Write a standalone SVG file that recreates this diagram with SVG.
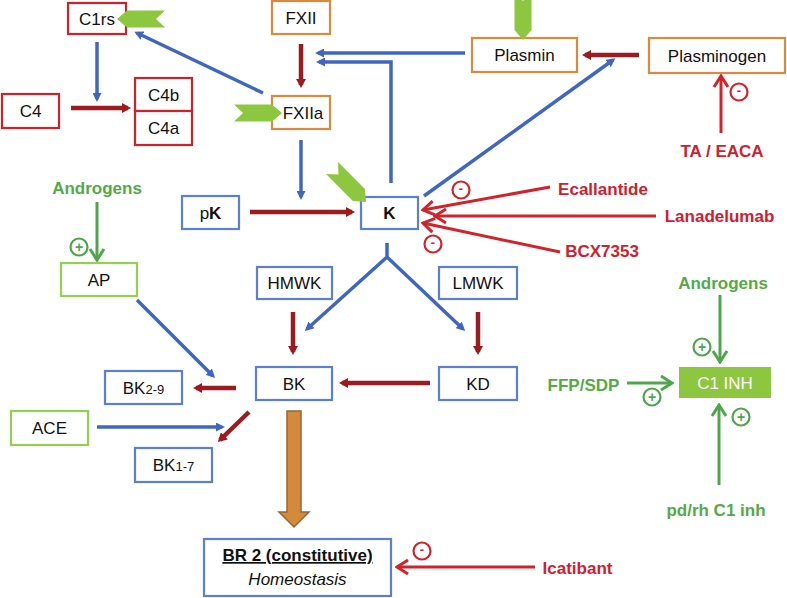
<svg xmlns="http://www.w3.org/2000/svg" xmlns:xlink="http://www.w3.org/1999/xlink" width="787" height="598" viewBox="0 0 787 598">
<style>
.box{fill:#fff;stroke-width:2.2}
.rb{stroke:#D0202A}
.ob{stroke:#D98A3C}
.bb{stroke:#5B7FD3}
.gb{stroke:#92D050}
.t{font-family:"Liberation Sans",Arial,sans-serif;font-size:17px;fill:#111;text-anchor:middle}
.lab{font-family:"Liberation Sans",Arial,sans-serif;font-size:17px;font-weight:bold;text-anchor:middle}
.red{fill:#D0202E}
.grn{fill:#55AA48}
.blue{stroke:#3F67C2;stroke-width:3.5;fill:none;marker-end:url(#aB)}
.dred{stroke:#9B1B1E;stroke-width:4.5;fill:none;marker-end:url(#aR)}
.drug{stroke:#D2232A;stroke-width:3;fill:none;marker-end:url(#oR)}
.gar{stroke:#4EA64A;stroke-width:3;fill:none;marker-end:url(#oG)}
.sm{fill:none;stroke:#D2232A;stroke-width:2.2}
.sp{fill:none;stroke:#4EA64A;stroke-width:2.2}
.sgr{font-family:"Liberation Sans",Arial,sans-serif;font-size:13px;font-weight:bold;text-anchor:middle;fill:#D2232A}
.sgg{font-family:"Liberation Sans",Arial,sans-serif;font-size:14px;font-weight:bold;text-anchor:middle;fill:#4EA64A}
</style>
<defs>
<marker id="aB" viewBox="0 0 9 9" refX="6" refY="4.5" markerWidth="9" markerHeight="9" markerUnits="userSpaceOnUse" orient="auto"><path d="M0,0 L9,4.5 L0,9 z" fill="#3F67C2"/></marker>
<marker id="aR" viewBox="0 0 9 10" refX="6" refY="5" markerWidth="9" markerHeight="10" markerUnits="userSpaceOnUse" orient="auto"><path d="M0,0 L9,5 L0,10 z" fill="#9B1B1E"/></marker>
<marker id="oR" viewBox="-2 -2 16 18" refX="12" refY="7" markerWidth="16" markerHeight="18" markerUnits="userSpaceOnUse" orient="auto"><path d="M1,0 L12,7 L1,14" fill="none" stroke="#D2232A" stroke-width="3"/></marker>
<marker id="oG" viewBox="-2 -2 16 18" refX="12" refY="7" markerWidth="16" markerHeight="18" markerUnits="userSpaceOnUse" orient="auto"><path d="M1,0 L12,7 L1,14" fill="none" stroke="#4EA64A" stroke-width="3"/></marker>
<path id="chev" d="M-48,-8.5 L-10,-8.5 L0,0 L-10,8.5 L-48,8.5 L-39,0 z" fill="#8DC63F"/>
</defs>

<g id="connectors">
<path class="blue" d="M97,42 L97,99"/>
<path class="blue" d="M263,93 L137,33"/>
<path class="blue" d="M465,53 L318,53"/>
<path class="blue" d="M391,183 L391,62 L319,62"/>
<path class="blue" d="M424,196 L613,60"/>
<path class="blue" d="M301,140 L301,197"/>
<path class="blue" d="M387,243 L387,257 L307,329"/>
<path class="blue" d="M387,257 L463,329"/>
<path class="blue" d="M137,300 L213,376"/>
<path class="blue" d="M97,427 L222,427"/>
<path class="dred" d="M71,108 L128,108"/>
<path class="dred" d="M301,44 L301,85"/>
<path class="dred" d="M639,55 L585,55"/>
<path class="dred" d="M250,212 L352,212"/>
<path class="dred" d="M293,312 L293,352"/>
<path class="dred" d="M478,312 L478,352"/>
<path class="dred" d="M430,383 L342,383"/>
<path class="dred" d="M236,388 L196,388"/>
<path class="dred" d="M249,412 L220,440"/>
<path class="drug" d="M721,133 L721,76"/>
<path class="drug" d="M550,187 L423,210"/>
<path class="drug" d="M656,216 L435,216"/>
<path class="drug" d="M560,252 L423,223"/>
<path class="drug" d="M535,567 L397,567"/>
<path class="gar" d="M97,202 L97,260"/>
<path class="gar" d="M720,295 L720,362"/>
<path class="gar" d="M627,383 L672,383"/>
<path class="gar" d="M719,485 L719,405"/>
<polygon points="287,411 301,411 301,512 309,512 294,527 279,512 287,512" fill="#D48A3C" stroke="#9C6430" stroke-width="1.5"/>
</g>

<g id="signs">
<circle class="sm" cx="739" cy="92" r="8.5"/><text class="sgr" x="739" y="95">-</text>
<circle class="sm" cx="461" cy="190" r="8.5"/><text class="sgr" x="461" y="193">-</text>
<circle class="sm" cx="433" cy="244" r="8.5"/><text class="sgr" x="433" y="247">-</text>
<circle class="sm" cx="422" cy="551" r="8.5"/><text class="sgr" x="422" y="554">-</text>
<circle class="sp" cx="79" cy="247" r="8.5"/><text class="sgg" x="79" y="252">+</text>
<circle class="sp" cx="702" cy="347" r="8.5"/><text class="sgg" x="702" y="352">+</text>
<circle class="sp" cx="652" cy="397" r="8.5"/><text class="sgg" x="652" y="402">+</text>
<circle class="sp" cx="741" cy="417" r="8.5"/><text class="sgg" x="741" y="422">+</text>
</g>

<g id="C1rs"><rect class="box rb" x="68" y="3" width="58" height="31"/><text class="t" x="97" y="25">C1rs</text></g>
<g id="C4"><rect class="box rb" x="2" y="94" width="57" height="34"/><text class="t" x="30.5" y="117">C4</text></g>
<g id="C4b"><rect class="box rb" x="135" y="78" width="57" height="33"/><text class="t" x="163.5" y="100.5">C4b</text></g>
<g id="C4a"><rect class="box rb" x="135" y="111" width="57" height="34"/><text class="t" x="163.5" y="134">C4a</text></g>
<g id="FXII"><rect class="box ob" x="272" y="1" width="58" height="33"/><text class="t" x="301" y="24">FXII</text></g>
<g id="FXIIa"><rect class="box ob" x="272" y="96" width="58" height="33"/><text class="t" x="303" y="119">FXIIa</text></g>
<g id="Plasmin"><rect class="box ob" x="472" y="38" width="105" height="34"/><text class="t" x="524.5" y="61">Plasmin</text></g>
<g id="Plasminogen"><rect class="box ob" x="649" y="38" width="136" height="35"/><text class="t" x="717" y="61.5">Plasminogen</text></g>
<g id="pK"><rect class="box bb" x="182" y="196" width="57" height="33"/><text class="t" x="210.5" y="218.5">p<tspan font-weight="bold">K</tspan></text></g>
<g id="K"><rect class="box bb" x="361" y="197" width="57" height="32"/><text class="t" x="389.5" y="219" font-weight="bold">K</text></g>
<g id="AP"><rect class="box gb" x="61" y="263" width="76" height="33"/><text class="t" x="99" y="285.5">AP</text></g>
<g id="HMWK"><rect class="box bb" x="257" y="267" width="75" height="32"/><text class="t" x="294.5" y="289">HMWK</text></g>
<g id="LMWK"><rect class="box bb" x="439" y="267" width="78" height="32"/><text class="t" x="478" y="289">LMWK</text></g>
<g id="BK29"><rect class="box bb" x="105" y="371" width="77" height="33"/><text class="t" x="143.5" y="393.5">BK<tspan font-size="13">2-9</tspan></text></g>
<g id="BK"><rect class="box bb" x="256" y="367" width="76" height="33"/><text class="t" x="294" y="389.5">BK</text></g>
<g id="KD"><rect class="box bb" x="439" y="367" width="78" height="33"/><text class="t" x="478" y="389.5">KD</text></g>
<g id="ACE"><rect class="box gb" x="11" y="411" width="77" height="34"/><text class="t" x="49.5" y="434">ACE</text></g>
<g id="BK17"><rect class="box bb" x="135" y="448" width="77" height="34"/><text class="t" x="173.5" y="471">BK<tspan font-size="13">1-7</tspan></text></g>
<g id="BR2"><rect class="box bb" x="204" y="539" width="187" height="57"/>
<text class="t" x="297.5" y="561" font-weight="bold" text-decoration="underline">BR 2 (constitutive)</text>
<text class="t" x="297.5" y="585" font-style="italic">Homeostasis</text></g>
<g id="C1INH"><rect x="679" y="367" width="92" height="31" fill="#8DC63F"/><text class="t" x="725" y="389" style="fill:#fff">C1 INH</text></g>

<g id="chevrons">
<use xlink:href="#chev" transform="translate(117,19) rotate(180)"/>
<use xlink:href="#chev" transform="translate(282,113)"/>
<use xlink:href="#chev" transform="translate(523,40) rotate(90)"/>
<use xlink:href="#chev" transform="translate(366,202) rotate(45)"/>
</g>

<g id="labels">
<text class="lab red" x="722" y="157">TA / EACA</text>
<text class="lab red" x="603" y="195">Ecallantide</text>
<text class="lab red" x="719.5" y="222">Lanadelumab</text>
<text class="lab red" x="602" y="257">BCX7353</text>
<text class="lab red" x="577.5" y="574">Icatibant</text>
<text class="lab grn" x="97" y="194">Androgens</text>
<text class="lab grn" x="723" y="289">Androgens</text>
<text class="lab grn" x="583.5" y="391">FFP/SDP</text>
<text class="lab grn" x="716" y="516">pd/rh C1 inh</text>
</g>
</svg>
